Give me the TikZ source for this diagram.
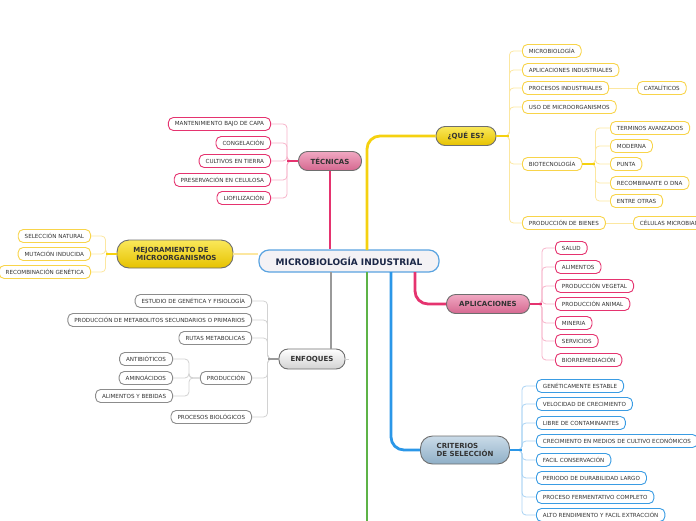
\documentclass[tikz,border=0pt]{standalone}
\usepackage{fontspec}
\setmainfont{DejaVu Sans}
\definecolor{txt}{HTML}{333333}
\definecolor{navy}{HTML}{1B2747}
\definecolor{pinkM}{HTML}{E5336F}
\definecolor{pinkL}{HTML}{F6B3C9}
\definecolor{pinkT}{HTML}{F0A8C2}
\definecolor{pinkD}{HTML}{D56890}
\definecolor{yelM}{HTML}{F5D10F}
\definecolor{yelL}{HTML}{FCE7A0}
\definecolor{yelB}{HTML}{F8D44A}
\definecolor{yelT}{HTML}{FAE85A}
\definecolor{yelD}{HTML}{E6C200}
\definecolor{blueM}{HTML}{2B97E8}
\definecolor{blueL}{HTML}{A9D3F3}
\definecolor{blueB}{HTML}{3A9CE3}
\definecolor{blueT}{HTML}{CADBE8}
\definecolor{blueD}{HTML}{8FAFC7}
\definecolor{blueC}{HTML}{5AA3E0}
\definecolor{grayM}{HTML}{9A9A9A}
\definecolor{grayL}{HTML}{D2D2D2}
\definecolor{grayB}{HTML}{8C8C8C}
\definecolor{greenM}{HTML}{5DB347}
\definecolor{topicB}{HTML}{6E6E6E}
\definecolor{cenF}{HTML}{F4F2F5}
\begin{document}
\begin{tikzpicture}[x=1pt,y=-1pt,
 leaf/.style={draw, rounded corners=5pt, line width=0.9pt, fill=white, font=\fontsize{5.6}{6.5}\selectfont, text=txt, inner xsep=6.5pt, inner ysep=0pt, minimum height=13pt},
 lp/.style={leaf, draw=pinkM}, ly/.style={leaf, draw=yelB}, lb/.style={leaf, draw=blueB}, lg/.style={leaf, draw=grayB},
 topic/.style={draw=topicB, line width=0.9pt, rounded corners=9pt, minimum height=19pt, font=\fontsize{7}{8.5}\selectfont\bfseries, text=txt, inner xsep=8pt, inner ysep=0pt},
 br/.style={line width=0.8pt, rounded corners=4pt},
 stub/.style={line width=1.8pt},
 mainline/.style={line width=2.8pt, rounded corners=13pt}]
\useasboundingbox (0,0) rectangle (696,520);

% central
\node[draw=blueC, line width=1.2pt, fill=cenF, rounded corners=10pt, minimum width=180pt, minimum height=22pt, font=\fontsize{9}{10}\selectfont\bfseries, text=navy] (cen) at (349,261) {MICROBIOLOGÍA INDUSTRIAL};

% topics
\node[topic, top color=pinkT, bottom color=pinkD, minimum width=63pt] (tec) at (330,161) {TÉCNICAS};
\node[topic, top color=yelT, bottom color=yelD, minimum width=60pt] (que) at (466,136) {¿QUÉ ES?};
\node[topic, top color=pinkT, bottom color=pinkD, minimum width=83pt] (apl) at (488,304) {APLICACIONES};
\node[topic, top color=white, bottom color=grayL, minimum width=66pt, minimum height=20pt] (enf) at (312,359) {ENFOQUES};
\node[topic, top color=yelT, bottom color=yelD, minimum width=116pt, minimum height=28pt, rounded corners=12pt, align=left] (mej) at (175,254) {MEJORAMIENTO DE\\\hspace{3pt}MICROORGANISMOS};
\node[topic, top color=blueT, bottom color=blueD, minimum width=89pt, minimum height=28pt, rounded corners=12pt, align=left] (cri) at (465,450) {CRITERIOS\\DE SELECCIÓN};

% main connectors
\coordinate (qs) at (367,250);
\coordinate (gs) at (367,272);
\coordinate (ge) at (367,524);
\coordinate (es) at (331,272);
\coordinate (as) at (415,272);
\coordinate (cs) at (391,272);
\draw[mainline, yelM] (qs) |- (que.west);
\draw[mainline, pinkM] (tec.south) -- (tec.south |- cen.north);
\draw[mainline, greenM] (gs) -- (ge);
\draw[mainline, grayM] (es) -- (es |- enf.north);
\draw[mainline, pinkM] (as) |- (apl.west);
\draw[mainline, blueM] (cs) |- (cri.west);
\draw[line width=1.2pt, yelL] (mej.east) -- (mej.east -| cen.west);
\draw[line width=0.8pt, grayL] (enf.east) -- ++(4,0);

% TECNICAS leaves
\node[lp, anchor=east] (t1) at (271,124) {MANTENIMIENTO BAJO DE CAPA};
\node[lp, anchor=east] (t2) at (271,143) {CONGELACIÓN};
\node[lp, anchor=east] (t3) at (271,161) {CULTIVOS EN TIERRA};
\node[lp, anchor=east] (t4) at (271,180) {PRESERVACIÓN EN CELULOSA};
\node[lp, anchor=east] (t5) at (271,198) {LIOFILIZACIÓN};
\foreach \n in {t1,t2,t3,t4,t5} \draw[br, pinkL] (tec.west) -- ++(-11,0) |- (\n.east);
\draw[stub, pinkM] (tec.west) -- ++(-11,0);

% QUE ES leaves
\node[ly, anchor=west] (q1) at (522,51) {MICROBIOLOGÍA};
\node[ly, anchor=west] (q2) at (522,70) {APLICACIONES INDUSTRIALES};
\node[ly, anchor=west] (q3) at (522,88) {PROCESOS INDUSTRIALES};
\node[ly, anchor=west] (q4) at (522,107) {USO DE MICROORGANISMOS};
\node[ly, anchor=west] (q5) at (522,164) {BIOTECNOLOGÍA};
\node[ly, anchor=west] (q6) at (522,223) {PRODUCCIÓN DE BIENES};
\foreach \n in {q1,q2,q3,q4,q5,q6} \draw[br, yelL] (que.east) -- ++(13,0) |- (\n.west);
\draw[stub, yelM] (que.east) -- ++(13,0);
\node[ly, anchor=west] (cat) at (637,88) {CATALÍTICOS};
\draw[br, yelL] (q3.east) -- (cat.west);
\node[ly, anchor=west] (cel) at (633,223) {CÉLULAS MICROBIANAS};
\draw[br, yelL] (q6.east) -- (cel.west);
\node[ly, anchor=west] (b1) at (610,128) {TERMINOS AVANZADOS};
\node[ly, anchor=west] (b2) at (610,146) {MODERNA};
\node[ly, anchor=west] (b3) at (610,164) {PUNTA};
\node[ly, anchor=west] (b4) at (610,183) {RECOMBINANTE O DNA};
\node[ly, anchor=west] (b5) at (610,201) {ENTRE OTRAS};
\foreach \n in {b1,b2,b3,b4,b5} \draw[br, yelL] (q5.east) -- ++(13,0) |- (\n.west);
\draw[stub, yelM] (q5.east) -- ++(13,0);

% MEJORAMIENTO leaves
\node[ly, anchor=east] (m1) at (91,236) {SELECCIÓN NATURAL};
\node[ly, anchor=east] (m2) at (91,254) {MUTACIÓN INDUCIDA};
\node[ly, anchor=east] (m3) at (91,272) {RECOMBINACIÓN GENÉTICA};
\foreach \n in {m1,m2,m3} \draw[br, yelL] (mej.west) -- ++(-11,0) |- (\n.east);
\draw[stub, yelM] (mej.west) -- ++(-11,0);

% APLICACIONES leaves
\node[lp, anchor=west] (a1) at (555,248) {SALUD};
\node[lp, anchor=west] (a2) at (555,267) {ALIMENTOS};
\node[lp, anchor=west] (a3) at (555,286) {PRODUCCIÓN VEGETAL};
\node[lp, anchor=west] (a4) at (555,304) {PRODUCCIÓN ANIMAL};
\node[lp, anchor=west] (a5) at (555,323) {MINERIA};
\node[lp, anchor=west] (a6) at (555,341) {SERVICIOS};
\node[lp, anchor=west] (a7) at (555,360) {BIORREMEDIACIÓN};
\foreach \n in {a1,a2,a3,a4,a5,a6,a7} \draw[br, pinkL] (apl.east) -- ++(12,0) |- (\n.west);
\draw[stub, pinkM] (apl.east) -- ++(12,0);

% ENFOQUES leaves
\node[lg, anchor=east] (e1) at (252,301) {ESTUDIO DE GENÉTICA Y FISIOLOGÍA};
\node[lg, anchor=east] (e2) at (252,320) {PRODUCCIÓN DE METABOLITOS SECUNDARIOS O PRIMARIOS};
\node[lg, anchor=east] (e3) at (252,338) {RUTAS METABOLICAS};
\node[lg, anchor=east] (e4) at (252,378) {PRODUCCIÓN};
\node[lg, anchor=east] (e5) at (252,417) {PROCESOS BIOLÓGICOS};
\foreach \n in {e1,e2,e3,e4,e5} \draw[br, grayL] (enf.west) -- ++(-11,0) |- (\n.east);
\draw[stub, grayM] (enf.west) -- ++(-11,0);
\node[lg, anchor=east] (p1) at (173,359) {ANTIBIÓTICOS};
\node[lg, anchor=east] (p2) at (173,378) {AMINOÁCIDOS};
\node[lg, anchor=east] (p3) at (173,396) {ALIMENTOS Y BEBIDAS};
\foreach \n in {p1,p2,p3} \draw[br, grayL] (e4.west) -- ++(-11,0) |- (\n.east);

% CRITERIOS leaves
\node[lb, anchor=west] (c1) at (536,386) {GENÉTICAMENTE ESTABLE};
\node[lb, anchor=west] (c2) at (536,404) {VELOCIDAD DE CRECIMIENTO};
\node[lb, anchor=west] (c3) at (536,423) {LIBRE DE CONTAMINANTES};
\node[lb, anchor=west] (c4) at (536,441) {CRECIMIENTO EN MEDIOS DE CULTIVO ECONÓMICOS};
\node[lb, anchor=west] (c5) at (536,460) {FACIL CONSERVACIÓN};
\node[lb, anchor=west] (c6) at (536,478) {PERIODO DE DURABILIDAD LARGO};
\node[lb, anchor=west] (c7) at (536,497) {PROCESO FERMENTATIVO COMPLETO};
\node[lb, anchor=west] (c8) at (536,515) {ALTO RENDIMIENTO Y FACIL EXTRACCIÓN};
\foreach \n in {c1,c2,c3,c4,c5,c6,c7,c8} \draw[br, blueL] (cri.east) -- ++(12,0) |- (\n.west);
\draw[stub, blueM] (cri.east) -- ++(12,0);
\end{tikzpicture}
\end{document}
